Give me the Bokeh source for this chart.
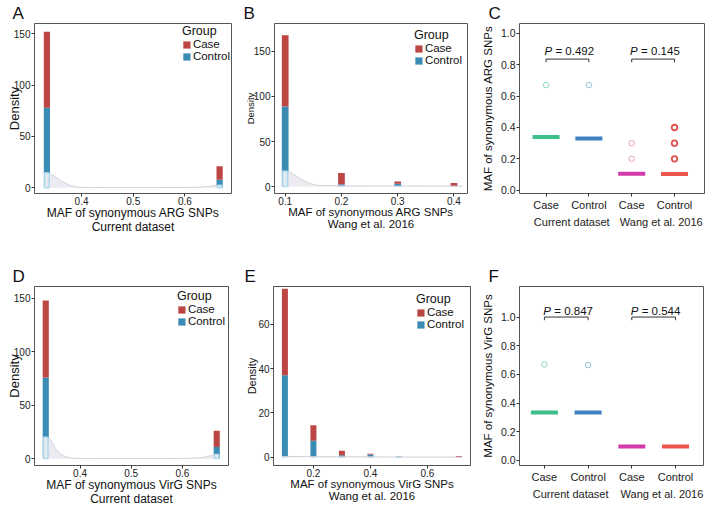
from bokeh.plotting import figure
from bokeh.layouts import column, row
from bokeh.models import (Range1d, FixedTicker, Legend, LegendItem, LinearAxis,
                          ColumnDataSource, NumeralTickFormatter)
from bokeh.embed import file_html
from bokeh.resources import INLINE
from bokeh.core.properties import value

FONT = "Liberation Sans"
CASE_COLOR = "#bb4644"
CONTROL_COLOR = "#3a8cb5"
DENS_FILL = "#e8e8ef"
DENS_LINE = "#d2d2dc"
BOX_LINE = "#addaeb"

# ---------------- data ----------------
# Panel A: synonymous ARG SNPs, current dataset
A_x = [0.333, 0.667]
A_control = [78, 8]
A_case = [74, 13]
A_dens_x = [0.327, 0.333, 0.34, 0.345, 0.35, 0.355, 0.36, 0.37, 0.38, 0.39, 0.40,
            0.45, 0.50, 0.55, 0.60, 0.62, 0.635, 0.645, 0.655, 0.665, 0.67]
A_dens_y = [14.5, 14.5, 13.5, 12, 10.5, 8.8, 7, 4.2, 2.0, 0.9, 0.4,
            0.2, 0.2, 0.2, 0.3, 0.5, 0.9, 1.4, 2.0, 2.6, 2.7]
A_peak_x = [0.333, 0.667]
A_peak_y = [14.5, 2.5]

# Panel B: synonymous ARG SNPs, Wang et al. 2016
B_x = [0.1, 0.2, 0.3, 0.4]
B_control = [89, 2.5, 3, 0]
B_case = [79, 12.5, 2.5, 4]
B_dens_x = [0.095, 0.1, 0.105, 0.11, 0.115, 0.12, 0.13, 0.14, 0.15, 0.16,
            0.2, 0.25, 0.3, 0.35, 0.4, 0.415]
B_dens_y = [17, 17, 16.5, 15.5, 13.5, 11.5, 7.5, 4.5, 2.2, 1.2,
            0.8, 0.6, 0.6, 0.5, 0.5, 0.5]
B_peak_x = [0.1]
B_peak_y = [17]

# Panel D: synonymous VirG SNPs, current dataset
D_x = [0.333, 0.667]
D_control = [76, 11]
D_case = [72, 15]
D_dens_x = [0.327, 0.333, 0.338, 0.342, 0.346, 0.35, 0.355, 0.36, 0.37, 0.38, 0.40,
            0.45, 0.50, 0.55, 0.60, 0.63, 0.645, 0.655, 0.665, 0.67]
D_dens_y = [20, 20, 19.5, 17.5, 14.5, 11, 7.5, 5, 2, 0.7, 0.2,
            0.1, 0.1, 0.1, 0.2, 0.6, 1.5, 2.8, 3.8, 4]
D_peak_x = [0.333, 0.667]
D_peak_y = [20, 4]

# Panel E: synonymous VirG SNPs, Wang et al. 2016
E_x = [0.1, 0.2, 0.3, 0.4, 0.5, 0.71]
E_control = [37, 7.5, 0.9, 1.3, 0.4, 0]
E_case = [39, 7, 2.1, 0.3, 0, 0.6]
E_dens_x = [0.09, 0.15, 0.2, 0.3, 0.4, 0.5, 0.6, 0.72]
E_dens_y = [0.4, 0.3, 0.3, 0.2, 0.2, 0.1, 0.1, 0.1]

# Panels C and F: MAF by group
CATEGORIES = ["Case", "Control", "Case", "Control"]
DATASETS = ["Current dataset", "Wang et al. 2016"]
C_median = [0.34, 0.33, 0.105, 0.103]
C_out_cat = [1, 2, 3, 3, 4, 4, 4]
C_out_val = [0.67, 0.67, 0.2, 0.3, 0.2, 0.3, 0.4]
C_pvalues = ["0.492", "0.145"]
C_bracket = 0.836
F_median = [0.335, 0.335, 0.097, 0.097]
F_out_cat = [1, 2]
F_out_val = [0.67, 0.665]
F_pvalues = ["0.847", "0.544"]
F_bracket = 1.0

MED_COLORS = ["#3dbf8c", "#3c82c3", "#d23caa", "#eb554b"]
OUT_COLORS = ["#8fd8bd", "#8cc3d6", "#e6a2d2", "#e0524e"]
OUT_WIDTH = [1, 1, 1, 1.8]

W = 236
H1, H2 = 255, 254


def style_axis(ax, tick_size="10px", label_size="12px"):
    ax.axis_line_color = None
    ax.major_tick_line_color = "#333333"
    ax.major_tick_in = 0
    ax.major_tick_out = 3
    ax.minor_tick_line_color = None
    ax.major_label_text_font = FONT
    ax.major_label_text_font_size = tick_size
    ax.major_label_text_color = "#222222"
    ax.major_label_standoff = 1
    ax.axis_label_text_font = FONT
    ax.axis_label_text_font_style = "normal"
    ax.axis_label_text_font_size = label_size
    ax.axis_label_text_color = "#111111"
    ax.axis_label_standoff = 1


def base(title, h, xr, yr, borders, title_offset):
    l, r, t, b = borders
    p = figure(width=W, height=h, x_range=Range1d(*xr), y_range=Range1d(*yr),
               output_backend="svg", toolbar_location=None, tools="",
               min_border_left=l, min_border_right=r,
               min_border_top=t, min_border_bottom=b)
    p.title.text = title
    p.title.text_font = FONT
    p.title.text_font_size = "17px"
    p.title.text_font_style = "normal"
    p.title.text_color = "#111111"
    p.title.offset = title_offset
    p.title.standoff = 1
    p.outline_line_color = "#555555"
    p.outline_line_width = 1
    p.xgrid.grid_line_color = None
    p.ygrid.grid_line_color = None
    p.background_fill_color = "white"
    p.border_fill_color = "white"
    return p


def hist_panel(title, h, xr, yr, borders, toff, bx, control, case, width,
               dens_x, dens_y, peak_x, peak_y, xticks, yticks, xlabel, xsub,
               ylabel_size, ylabel_standoff, xlabel_size, legend_margin):
    p = base(title, h, xr, yr, borders, toff)
    src = ColumnDataSource(dict(x=bx, Control=control, Case=case))
    rs = p.vbar_stack(["Control", "Case"], x="x", width=width,
                      color=[CONTROL_COLOR, CASE_COLOR], source=src, line_color=None)
    p.varea(x=dens_x, y1=0, y2=dens_y, fill_color=DENS_FILL, fill_alpha=0.85)
    p.line(x=dens_x, y=dens_y, line_color=DENS_LINE, line_width=1)
    if peak_x:
        p.vbar(x=peak_x, top=peak_y, bottom=0, width=width * 0.7,
               fill_color="white", fill_alpha=0.45, line_color=BOX_LINE, line_width=1.3)
    p.xaxis.ticker = FixedTicker(ticks=xticks)
    p.yaxis.ticker = FixedTicker(ticks=yticks)
    style_axis(p.xaxis[0], label_size=xlabel_size)
    style_axis(p.yaxis[0], label_size=ylabel_size)
    p.xaxis.major_label_standoff = 0
    p.xaxis.axis_label = xlabel
    p.xaxis.axis_label_standoff = -2
    p.yaxis.axis_label = "Density"
    p.yaxis.axis_label_standoff = ylabel_standoff
    sub = LinearAxis(ticker=FixedTicker(ticks=[]), axis_label=xsub)
    style_axis(sub, label_size=xlabel_size)
    sub.major_tick_out = 0
    sub.major_tick_line_color = None
    sub.major_label_standoff = 0
    sub.axis_label_standoff = -3
    p.add_layout(sub, "below")
    legend = Legend(items=[LegendItem(label="Case", renderers=[rs[1]]),
                           LegendItem(label="Control", renderers=[rs[0]])],
                    title="Group", location="top_right")
    legend.title_text_font = FONT
    legend.title_text_font_size = "12.5px"
    legend.title_text_font_style = "normal"
    legend.title_text_color = "#111111"
    legend.title_standoff = -4
    legend.label_text_font = FONT
    legend.label_text_font_size = "11.5px"
    legend.label_text_color = "#111111"
    legend.glyph_width = 9
    legend.glyph_height = 9
    legend.label_height = 10
    legend.label_standoff = 2
    legend.spacing = -5
    legend.padding = 2
    legend.margin = legend_margin
    legend.border_line_color = None
    legend.background_fill_alpha = 0
    p.add_layout(legend)
    return p


def box_panel(title, h, xr, yr, borders, toff, medians, out_cat, out_val,
              pvalues, bracket_y, text_y, tick_len, ylabel, group_pos):
    p = base(title, h, xr, yr, borders, toff)
    pos = [i + 1 for i in range(len(CATEGORIES))]
    p.rect(x=pos, y=medians, width=27, height=4, width_units="screen",
           height_units="screen", fill_color=MED_COLORS, line_color=None)
    p.scatter(x=out_cat, y=out_val, marker="circle", size=5.5, fill_color=None,
              line_color=[OUT_COLORS[c - 1] for c in out_cat],
              line_width=[OUT_WIDTH[c - 1] for c in out_cat])
    left = pos[0::2]
    right = pos[1::2]
    p.segment(x0=left, y0=[bracket_y] * 2, x1=right, y1=[bracket_y] * 2,
              line_color="#333333", line_width=1)
    p.segment(x0=pos, y0=[bracket_y] * 4, x1=pos, y1=[bracket_y - tick_len] * 4,
              line_color="#333333", line_width=1)
    centers = [(a + b) / 2 for a, b in zip(left, right)]
    p.text(x=centers, y=[text_y] * 2, text=["P"] * 2, x_offset=-23,
           text_font=value(FONT), text_font_style="italic", text_font_size="11.5px",
           text_align="left", text_baseline="middle", text_color="#111111")
    p.text(x=centers, y=[text_y] * 2, text=["= " + v for v in pvalues], x_offset=-12,
           text_font=value(FONT), text_font_size="11.5px",
           text_align="left", text_baseline="middle", text_color="#111111")
    p.xaxis.ticker = FixedTicker(ticks=pos)
    p.xaxis.major_label_overrides = {k: c for k, c in zip(pos, CATEGORIES)}
    p.yaxis.ticker = FixedTicker(ticks=[0, 0.2, 0.4, 0.6, 0.8, 1.0])
    p.yaxis.formatter = NumeralTickFormatter(format="0.0")
    style_axis(p.xaxis[0], tick_size="11px")
    style_axis(p.yaxis[0], tick_size="10.5px", label_size="11.5px")
    p.xaxis.major_label_standoff = 2
    p.yaxis.axis_label = ylabel
    p.yaxis.axis_label_standoff = 4
    gax = LinearAxis(ticker=FixedTicker(ticks=group_pos),
                     major_label_overrides={k: d for k, d in zip(group_pos, DATASETS)})
    style_axis(gax, tick_size="11px")
    gax.major_tick_line_color = None
    gax.major_tick_out = 0
    gax.major_label_standoff = 2
    p.add_layout(gax, "below")
    return p


pA = hist_panel("A", H1, (0.309, 0.690), (-5.5, 160), (34, 5, 21, 62), -22,
                A_x, A_control, A_case, 0.012, A_dens_x, A_dens_y, A_peak_x, A_peak_y,
                [0.4, 0.5, 0.6], [0, 50, 100, 150],
                "MAF of synonymous ARG SNPs", "Current dataset", "13px", -11, "12px", 1)
pB = hist_panel("B", H1, (0.081, 0.424), (-7.7, 181), (38, 5, 23, 61), -31,
                B_x, B_control, B_case, 0.012, B_dens_x, B_dens_y, B_peak_x, B_peak_y,
                [0.1, 0.2, 0.3, 0.4], [0, 50, 100, 150],
                "MAF of synonymous ARG SNPs", "Wang et al. 2016", "9.5px", -5, "11.5px", 5)
pC = box_panel("C", H1, (0.38, 4.7), (-0.021, 1.063), (47, 4, 21, 58), -31,
               C_median, C_out_cat, C_out_val, C_pvalues, C_bracket, 0.888, 0.02,
               "MAF of synonymous ARG SNPs", [1.6, 3.69])
pD = hist_panel("D", H2, (0.311, 0.690), (-6.4, 161), (34, 8, 29, 43), -22,
                D_x, D_control, D_case, 0.012, D_dens_x, D_dens_y, D_peak_x, D_peak_y,
                [0.4, 0.5, 0.6], [0, 50, 100, 150],
                "MAF of synonymous VirG SNPs", "Current dataset", "13px", -11, "12px", 3)
pE = hist_panel("E", H2, (0.06, 0.751), (-3.7, 77), (37, 2, 30, 43), -29,
                E_x, E_control, E_case, 0.021, E_dens_x, E_dens_y, [], [],
                [0.2, 0.4, 0.6], [0, 20, 40, 60],
                "MAF of synonymous VirG SNPs", "Wang et al. 2016", "11px", -3, "11.5px", 6)
pF = box_panel("F", H2, (0.43, 4.64), (-0.035, 1.213), (47, 5, 31, 44), -31,
               F_median, F_out_cat, F_out_val, F_pvalues, F_bracket, 1.045, 0.022,
               "MAF of synonymous VirG SNPs", [1.6, 3.69])

layout = column(row(pA, pB, pC), row(pD, pE, pF))
open("out.html", "w").write(file_html(layout, INLINE))
